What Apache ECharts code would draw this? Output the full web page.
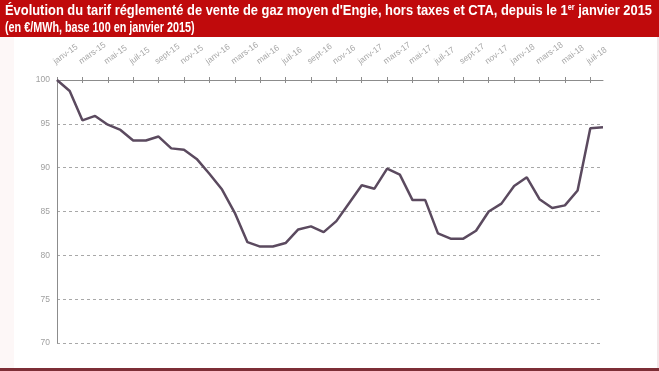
<!DOCTYPE html>
<html>
<head>
<meta charset="utf-8">
<script src="https://cdn.jsdelivr.net/npm/echarts@6/dist/echarts.min.js"></script>
<style>
html,body{margin:0;padding:0;background:#fff;}
#c{width:659px;height:371px;}
</style>
</head>
<body>
<div id="c"></div>
<script>
const titleLine1 = "Évolution du tarif réglementé de vente de gaz moyen d'Engie, hors taxes et CTA, depuis le 1";
const titleSup = "er";
const titleEnd = " janvier 2015";
const titleLine2 = "(en €/MWh, base 100 en janvier 2015)";

const months = [
  "janv-15","févr-15","mars-15","avr-15","mai-15","juin-15","juil-15","août-15","sept-15","oct-15","nov-15","déc-15",
  "janv-16","févr-16","mars-16","avr-16","mai-16","juin-16","juil-16","août-16","sept-16","oct-16","nov-16","déc-16",
  "janv-17","févr-17","mars-17","avr-17","mai-17","juin-17","juil-17","août-17","sept-17","oct-17","nov-17","déc-17",
  "janv-18","févr-18","mars-18","avr-18","mai-18","juin-18","juil-18","août-18"
];
const tarif = [
  100, 98.75, 95.4, 95.9, 94.9, 94.3, 93.1, 93.1, 93.55, 92.2, 92.05, 91.0,
  89.3, 87.5, 84.85, 81.5, 81.0, 81.0, 81.4, 82.95, 83.3, 82.65, 83.9, 85.95,
  88.0, 87.6, 89.9, 89.2, 86.3, 86.3, 82.5, 81.9, 81.9, 82.8, 85.0, 85.9,
  87.9, 88.9, 86.4, 85.4, 85.7, 87.4, 94.5, 94.6
];
const yMin = 70, yMax = 100, yStep = 5;

const titleFont = 'Liberation Sans, Arial, sans-serif';
const chart = echarts.init(document.getElementById('c'), null, {renderer:'canvas'});
chart.setOption({
  backgroundColor: '#ffffff',
  animation: false,
  graphic: [
    {type:'rect', shape:{x:0,y:0,width:659,height:37}, style:{fill:'#c00a0c'}, silent:true},
    {type:'rect', shape:{x:0,y:368,width:659,height:3}, style:{fill:'#7d2e36'}, silent:true},
    {type:'rect', shape:{x:657,y:37,width:2,height:331}, style:{fill:'#f3e6e8'}, silent:true},
    {type:'rect', shape:{x:0,y:37,width:14,height:331}, style:{fill:'#fdf7f7'}, silent:true},
    {type:'text', x:5, y:3, scaleX:0.86, style:{
      text: '{a|' + titleLine1 + '}{s|' + titleSup + '}{a|' + titleEnd + '}',
      rich:{
        a:{fontFamily:titleFont, fontWeight:'bold', fontSize:15, fill:'#ffffff'},
        s:{fontFamily:titleFont, fontWeight:'bold', fontSize:8.5, fill:'#ffffff', verticalAlign:'top', padding:[0,0,6,0]}
      }
    }},
    {type:'text', x:5, y:20, scaleX:0.72, style:{
      text: titleLine2,
      fontFamily:titleFont, fontWeight:'bold', fontSize:15, fill:'#ffffff'
    }}
  ],
  grid: {left:57, right:56, top:80, bottom:28, containLabel:false},
  xAxis: [{
    type:'category',
    position:'top',
    data: months,
    boundaryGap:false,
    axisLine:{show:true, lineStyle:{color:'#8c8c8c', width:1}},
    axisTick:{show:true, interval:1, length:3, lineStyle:{color:'#8c8c8c'}},
    axisLabel:{show:true, interval:1, rotate:-36, margin:14, align:'left', verticalAlign:'bottom',
      color:'#a6a6a6', fontFamily:'Liberation Sans, Arial, sans-serif', fontSize:8.5},
    splitLine:{show:false}
  },{
    type:'category',
    position:'top',
    offset:0,
    data: months,
    boundaryGap:false,
    axisLine:{show:false},
    axisTick:{show:true, inside:true, interval:1, length:3, lineStyle:{color:'#8c8c8c'}},
    axisLabel:{show:false},
    splitLine:{show:false}
  }],
  yAxis: {
    type:'value',
    min:yMin, max:yMax, interval:yStep,
    axisLine:{show:true, lineStyle:{color:'#8c8c8c', width:1}},
    axisTick:{show:false},
    axisLabel:{color:'#a0a0a0', fontSize:8.5, margin:7, fontFamily:'Liberation Sans, Arial, sans-serif'},
    splitLine:{show:true, lineStyle:{color:'#a8a8a8', type:[3,3], width:1}}
  },
  series: [{
    type:'line',
    xAxisIndex:0,
    data: tarif,
    symbol:'none',
    lineStyle:{color:'#5b4a5f', width:2.5},
    z:3
  }]
});
</script>
</body>
</html>
